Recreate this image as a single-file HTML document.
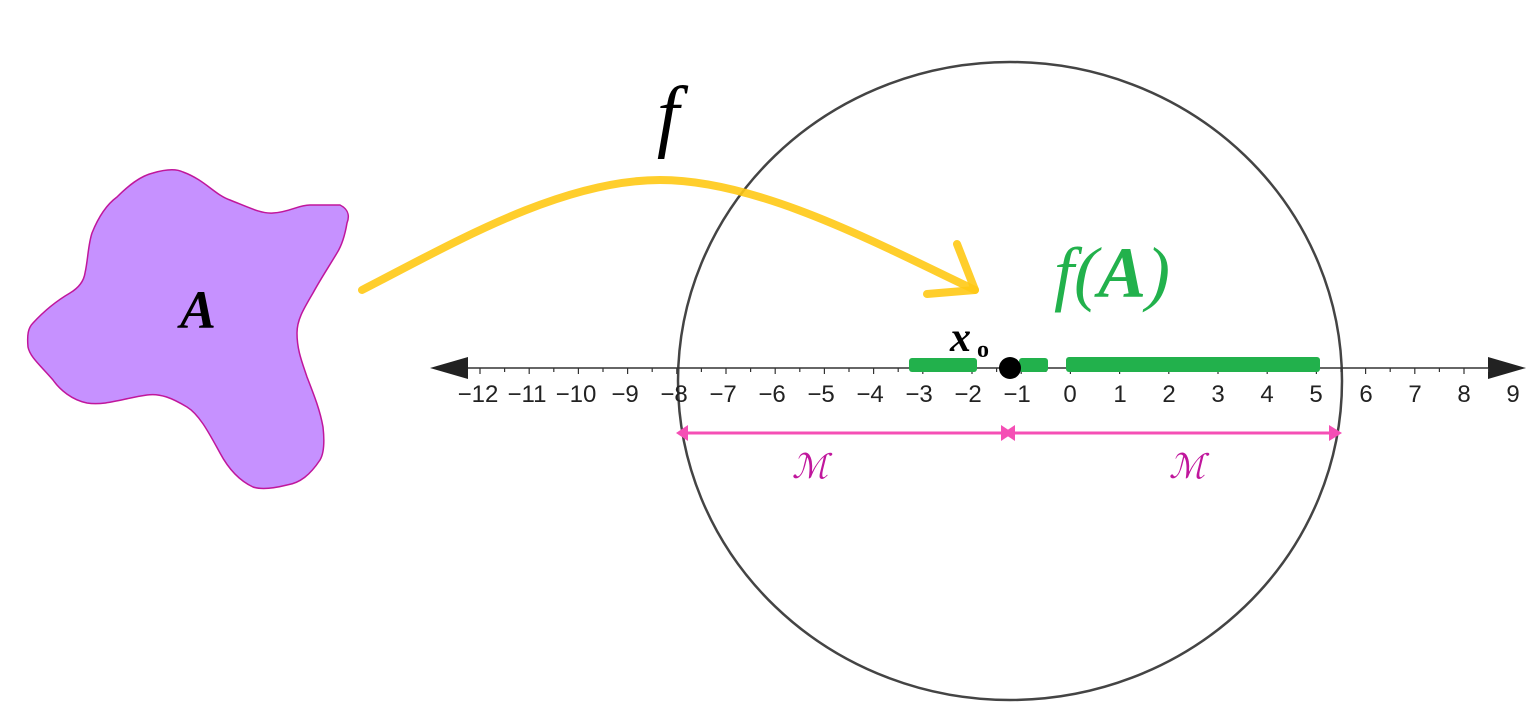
<!DOCTYPE html>
<html><head><meta charset="utf-8"><style>
html,body{margin:0;padding:0;background:#fff;}
svg{display:block;}
</style></head><body>
<svg width="1536" height="728" viewBox="0 0 1536 728" xmlns="http://www.w3.org/2000/svg">
<path d="M183,172 C205,180 215,195 230,200 C250,208 262,214 273,213 C290,212 298,205 310,205 L340,205 C350,210 349,218 347,223 C345,235 342,245 337,253 C328,268 320,280 313,293 C303,310 297,320 297,333 C297,350 302,362 307,377 C314,395 320,410 323,427 C325,445 323,455 320,460 C310,475 300,483 287,485 C275,488 262,490 253,487 C238,480 228,468 220,453 C210,435 200,415 187,407 C172,398 160,393 147,395 C125,398 105,406 87,403 C72,400 60,390 53,380 C40,365 30,357 28,347 C27,335 28,328 33,323 C45,310 58,300 70,293 C80,287 84,280 85,273 C88,260 88,245 92,233 C98,218 106,205 117,197 C128,186 140,176 153,173 C163,170 175,168 183,172 Z" fill="#c691ff" stroke="#c0169c" stroke-width="1.5"/>
<text x="198" y="328" font-family="Liberation Serif, serif" font-style="italic" font-weight="bold" font-size="54" text-anchor="middle" fill="#000">A</text>

<ellipse cx="1010" cy="381" rx="332" ry="319" fill="none" stroke="#444" stroke-width="2.5"/>

<path d="M362,290 C450,245 560,180 660,180 C760,180 880,245 975,290" fill="none" stroke="#ffc915" stroke-width="8" stroke-linecap="round" opacity="0.9"/>
<path d="M957,244 L975,290 L927,294" fill="none" stroke="#ffc915" stroke-width="8" stroke-linecap="round" stroke-linejoin="round" opacity="0.9"/>
<text x="668" y="142" font-family="Liberation Serif, serif" font-style="italic" font-size="80" text-anchor="middle" fill="#000">f</text>
<text x="1112" y="297" font-family="Liberation Serif, serif" font-style="italic" font-size="72" text-anchor="middle" fill="#22b14c">f(<tspan font-weight="bold">A</tspan>)</text>

<line x1="440" y1="368" x2="1515" y2="368" stroke="#333" stroke-width="1.5"/>
<polygon points="430,368 468,357 468,379" fill="#222"/>
<polygon points="1526,368 1488,357 1488,379" fill="#222"/>
<g stroke="#333" stroke-width="1.2">
<path d="M480,368v6M504.6,368v4M529.2,368v6M553.8,368v4M578.4,368v6M603,368v4M627.6,368v6M652.2,368v4M676.8,368v6M701.4,368v4M726,368v6M750.6,368v4M775.2,368v6M799.8,368v4M824.4,368v6M849,368v4M873.6,368v6M898.2,368v4M922.8,368v6M947.4,368v4M972,368v6M996.6,368v4M1021.2,368v6M1045.8,368v4M1070.4,368v6M1095,368v4M1119.6,368v6M1144.2,368v4M1168.8,368v6M1193.4,368v4M1218,368v6M1242.6,368v4M1267.2,368v6M1291.8,368v4M1316.4,368v6M1341,368v4M1365.6,368v6M1390.2,368v4M1414.8,368v6M1439.4,368v4M1464,368v6M1488.6,368v4"/>
</g>
<g font-family="Liberation Sans, sans-serif" font-size="24" fill="#222" text-anchor="middle">
<text x="478" y="402">−12</text><text x="527" y="402">−11</text><text x="576" y="402">−10</text>
<text x="625" y="402">−9</text><text x="674" y="402">−8</text><text x="723" y="402">−7</text>
<text x="772" y="402">−6</text><text x="821" y="402">−5</text><text x="870" y="402">−4</text>
<text x="919" y="402">−3</text><text x="968" y="402">−2</text><text x="1017" y="402">−1</text>
<text x="1070" y="402">0</text><text x="1120" y="402">1</text><text x="1169" y="402">2</text>
<text x="1218" y="402">3</text><text x="1267" y="402">4</text><text x="1316" y="402">5</text>
<text x="1366" y="402">6</text><text x="1415" y="402">7</text><text x="1464" y="402">8</text>
<text x="1513" y="402">9</text>
</g>

<g fill="#22b14c">
<rect x="909" y="358" width="68" height="14" rx="3"/>
<rect x="1019" y="358" width="29" height="14" rx="3"/>
<rect x="1066" y="357" width="254" height="15" rx="3"/>
</g>
<circle cx="1010" cy="368" r="11" fill="#000"/>
<text x="950" y="351" font-family="Liberation Serif, serif" font-style="italic" font-weight="bold" font-size="42" fill="#000">x</text>
<text x="977" y="357" font-family="Liberation Serif, serif" font-weight="bold" font-size="24" fill="#000">o</text>

<line x1="680" y1="433" x2="1338" y2="433" stroke="#f54fb5" stroke-width="3"/>
<polygon points="676,433 688,425 688,441" fill="#f54fb5"/>
<polygon points="1342,433 1329,425 1329,441" fill="#f54fb5"/>
<polygon points="1013,433 1001,425 1001,441" fill="#f54fb5"/>
<polygon points="1003,433 1015,425 1015,441" fill="#f54fb5"/>
<text x="810" y="478" font-family="Liberation Serif, serif" font-style="italic" font-size="34" fill="#c0169c" text-anchor="middle">ℳ</text>
<text x="1187" y="478" font-family="Liberation Serif, serif" font-style="italic" font-size="34" fill="#c0169c" text-anchor="middle">ℳ</text>
</svg>
</body></html>
